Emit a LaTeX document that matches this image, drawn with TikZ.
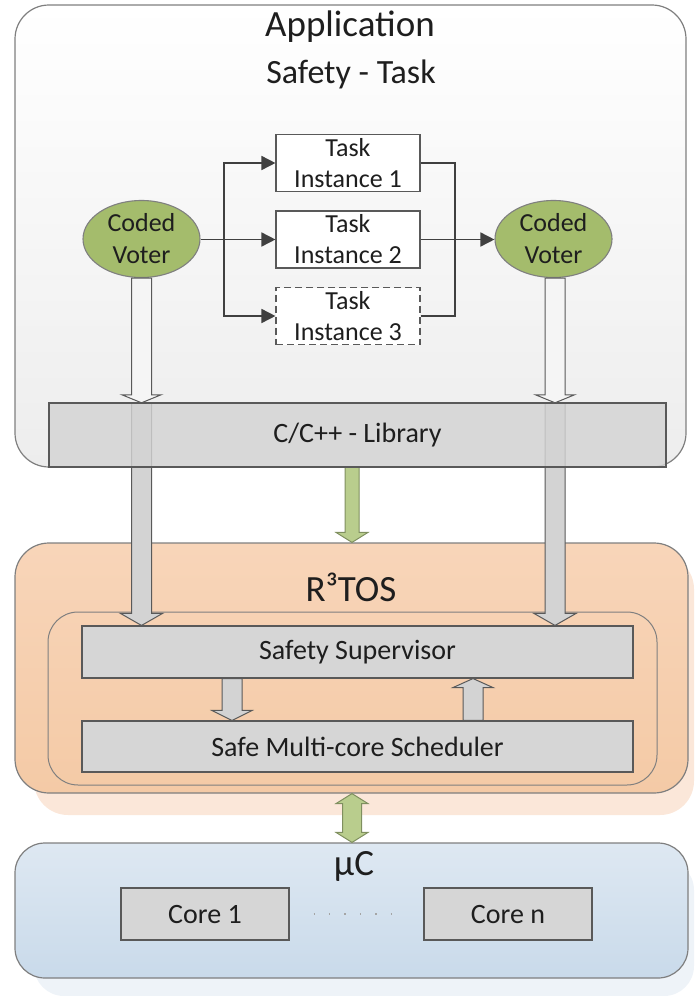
\documentclass[tikz,border=0pt]{standalone}
\usepackage{fontspec}
\setmainfont{Carlito}
\usetikzlibrary{calc,arrows.meta,shapes.geometric}
\definecolor{linegray}{HTML}{7F7F7F}
\definecolor{boxline}{HTML}{595959}
\definecolor{appbot}{HTML}{EDEDED}
\definecolor{libgray}{HTML}{D4D4D4}
\definecolor{boxgray}{HTML}{D6D6D6}
\definecolor{rttop}{HTML}{F8D5B9}
\definecolor{rtbot}{HTML}{F4CAA6}
\definecolor{rtshadow}{HTML}{FBE7D9}
\definecolor{uctop}{HTML}{DEE8F2}
\definecolor{ucbot}{HTML}{C9DAEA}
\definecolor{ucshadow}{HTML}{EEF3F8}
\definecolor{voterg}{HTML}{A4BC6C}
\definecolor{greenarr}{HTML}{B9CD8D}
\definecolor{greenline}{HTML}{7F8F5F}
\definecolor{conngray}{HTML}{404040}
\definecolor{txt}{HTML}{1E1E1E}
\definecolor{arrgray}{HTML}{D3D3D3}
\definecolor{hollow}{HTML}{F5F5F5}
% vertical block arrow: #1 style, #2 start, #3 tip, #4 shaft half width, #5 head half width, #6 head length
\newcommand\vbarrow[6]{%
  \draw[#1] let \p1=(#2), \p2=(#3), \n1={ifthenelse(\y2<\y1,1,-1)} in
    ({\x1-#4pt},\y1) -- ({\x1-#4pt},{\y2+\n1*#6pt}) -- ({\x1-#5pt},{\y2+\n1*#6pt})
    -- (\x1,\y2) -- ({\x1+#5pt},{\y2+\n1*#6pt}) -- ({\x1+#4pt},{\y2+\n1*#6pt})
    -- ({\x1+#4pt},\y1) -- cycle;}
\begin{document}
\begin{tikzpicture}[x=1pt,y=-1pt,
  every node/.style={text=txt},
  layer/.style={draw=linegray, line width=1.2pt, inner sep=0pt},
  title/.style={font=\fontsize{37}{42}\selectfont},
  taskbox/.style={draw=boxline, fill=white, line width=1.1pt, minimum width=144pt, minimum height=57pt,
     inner sep=0pt, align=center, font=\fontsize{26}{31}\selectfont},
  graybox/.style={draw=boxline, fill=boxgray, line width=1.1pt, inner sep=0pt, font=\fontsize{28}{32}\selectfont},
  voter/.style={ellipse, draw=linegray, fill=voterg, line width=1.1pt, minimum width=117pt, minimum height=77pt,
     inner sep=-8pt, align=center, font=\fontsize{26}{32}\selectfont},
  conn/.style={draw=conngray, line width=1.6pt},
  arr/.style={conn, -{Triangle[length=14pt,width=14pt]}},
  grayarrow/.style={draw=boxline, fill=arrgray, line width=1pt},
  hollowarrow/.style={draw=boxline, fill=hollow, line width=1pt},
  greenarrow/.style={draw=greenline, fill=greenarr, line width=1pt}]
\useasboundingbox (0,0) rectangle (694,996);

% ---------- layers ----------
\node[layer, top color=white, bottom color=appbot, minimum width=671pt, minimum height=462pt,
      rounded corners=34pt] (app) at (350.5,236) {};
\node[title] (apptitle) at (350,27) {Application};
\node[font=\fontsize{34}{38}\selectfont] (safety) at (351,74) {Safety - Task};

\node[fill=rtshadow, rounded corners=34pt, minimum width=660pt, minimum height=260pt, inner sep=0pt] (rtsh) at (364,685) {};
\node[layer, top color=rttop, bottom color=rtbot, minimum width=673pt, minimum height=250pt,
      rounded corners=34pt] (rtos) at (351.5,668) {};
\node[title] (rtitle) at (351,587) {R³TOS};

\node[fill=ucshadow, rounded corners=30pt, minimum width=660pt, minimum height=136pt, inner sep=0pt] (ucsh) at (364,928) {};
\node[layer, top color=uctop, bottom color=ucbot, minimum width=673pt, minimum height=135pt,
      rounded corners=30pt] (uc) at (351.5,910.5) {};
\node[title] (uctitle) at (354,866) {µC};

% ---------- R3TOS internals ----------
\node[draw=linegray, line width=1pt, rounded corners=30pt, minimum width=609pt, minimum height=173pt, inner sep=0pt] (inner) at (352.5,698.5) {};
\node[graybox, minimum width=551pt, minimum height=52pt] (sup) at (357.5,652) {Safety Supervisor};
\node[graybox, minimum width=551pt, minimum height=51pt] (sched) at (357.5,746.5) {Safe Multi-core Scheduler};
\vbarrow{grayarrow}{$(sup.south)+(-125.5,0)$}{$(sched.north)+(-125.5,0)$}{10}{20}{10}
\vbarrow{grayarrow}{$(sched.north)+(115.5,0)$}{$(sup.south)+(115.5,0)$}{10}{20}{9}

% ---------- voters and task instances ----------
\node[voter] (v1) at (141.5,239) {Coded\\Voter};
\node[voter] (v2) at (553.5,239) {Coded\\Voter};
\node[taskbox] (t1) at (348,163) {Task\\Instance 1};
\node[taskbox] (t2) at (348,239.5) {Task\\Instance 2};
\node[taskbox, dashed, dash pattern=on 7pt off 4pt] (t3) at (348,316) {Task\\Instance 3};

\coordinate (fork) at (224,239.5);
\coordinate (join) at (455,239.5);
\draw[conn] (v1.east |- fork) -- (fork);
\draw[arr] (fork) -- (t2.west);
\draw[arr] (fork) |- (t1.west);
\draw[arr] (fork) |- (t3.west);
\draw[conn] (t1.east) -| (join);
\draw[conn] (t3.east) -| (join);
\draw[arr] (t2.east) -- (v2.west |- t2.east);

% ---------- library and long arrows ----------
\path node[minimum width=617pt, minimum height=64pt, inner sep=0pt] (lib) at (357.5,435) {};
\vbarrow{grayarrow}{v1.south |- lib.north}{v1.south |- sup.north}{10}{21}{12}
\vbarrow{grayarrow}{$(v2.south |- lib.north)+(1.5,0)$}{$(v2.south |- sup.north)+(1.5,0)$}{10}{21}{12}
\vbarrow{greenarrow}{$(lib.south)+(-5.5,0)$}{$(lib.south |- rtos.north)+(-5.5,0)$}{7}{16}{10}
\node[draw=boxline, line width=1.1pt, fill=libgray, fill opacity=0.82, text opacity=1,
      minimum width=617pt, minimum height=64pt, inner sep=0pt, font=\fontsize{28}{32}\selectfont] (libbox) at (lib) {C/C++ - Library};
\vbarrow{hollowarrow}{v1.south}{v1.south |- lib.north}{10}{19.5}{8}
\vbarrow{hollowarrow}{$(v2.south)+(1.5,0)$}{$(v2.south |- lib.north)+(1.5,0)$}{10}{19.5}{8}

% ---------- double green arrow R3TOS <-> uC ----------
\draw[greenarrow] let \p1=($(rtos.south)+(0.5,0)$), \p2=($(uc.north)+(0.5,0)$) in
  (\x1,\y1) -- ({\x1+16pt},{\y1-10pt}) -- ({\x1+9.5pt},{\y1-10pt}) -- ({\x1+9.5pt},{\y2+10pt})
  -- ({\x1+16pt},{\y2+10pt}) -- (\x1,\y2) -- ({\x1-16pt},{\y2+10pt}) -- ({\x1-9.5pt},{\y2+10pt})
  -- ({\x1-9.5pt},{\y1-10pt}) -- ({\x1-16pt},{\y1-10pt}) -- cycle;

% ---------- cores ----------
\node[graybox, minimum width=168pt, minimum height=52pt] (core1) at (205,914) {Core 1};
\node[graybox, minimum width=168pt, minimum height=52pt] (coren) at (508,914) {Core n};
\draw[draw=linegray!70, line width=1.4pt, dash pattern=on 1.4pt off 14pt]
  ($(core1.east)+(24,0)$) -- ($(coren.west)+(-20,0)$);
\end{tikzpicture}
\end{document}
